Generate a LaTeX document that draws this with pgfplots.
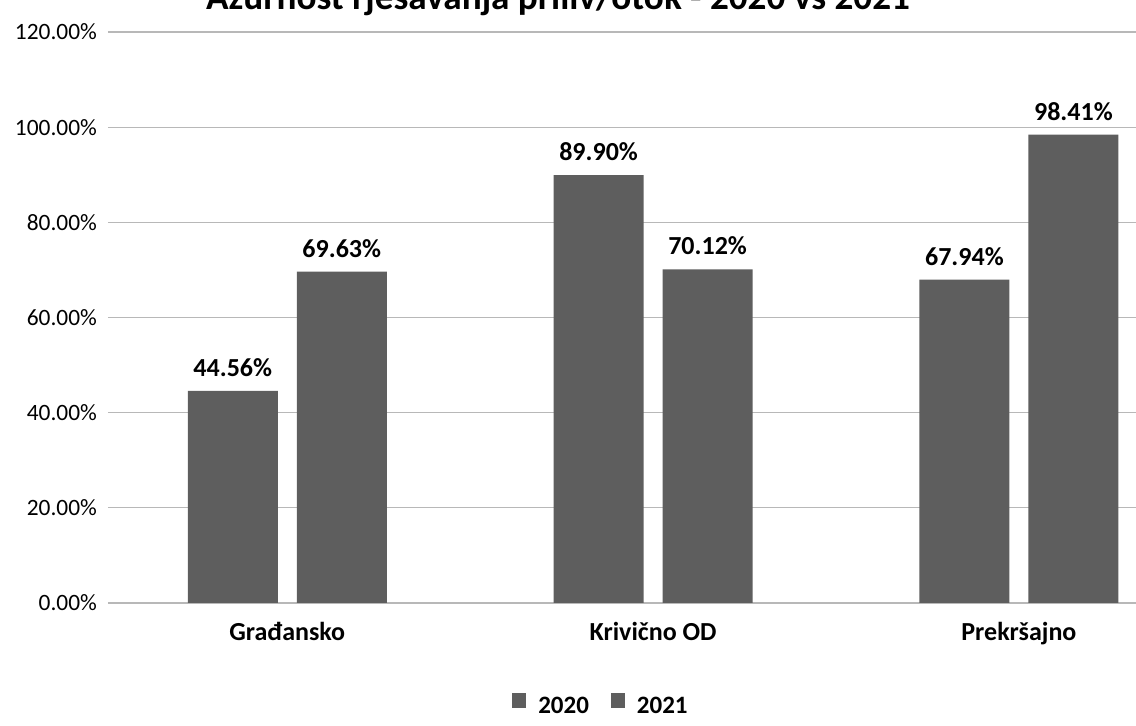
\documentclass[border=0pt]{standalone}
\usepackage{fontspec}
\setmainfont{Carlito}
\usepackage{pgfplots}
\pgfplotsset{compat=1.18}
\definecolor{barg}{HTML}{5E5E5E}
\definecolor{gridg}{HTML}{B8B8B8}
\begin{document}
\begin{tikzpicture}[x=1pt,y=1pt]
\useasboundingbox (0,0) rectangle (568,363);
\begin{axis}[
  at={(54pt,61.5pt)}, anchor=south west,
  scale only axis, width=514pt, height=285.5pt,
  xmin=-0.49, xmax=2.32, ymin=0, ymax=120,
  ytick={0,20,...,120},
  xtick={0,1,2}, xticklabels={Građansko, Krivično OD, Prekršajno},
  ybar=9.5pt, bar width=45pt,
  axis line style={draw=none},
  major tick length=0pt,
  ymajorgrids, grid style={gridg, line width=0.6pt},
  /pgf/number format/assume math mode=true,
  yticklabel={\pgfmathprintnumber[fixed,fixed zerofill,precision=2]{\tick}\%},
  yticklabel style={font=\fontsize{11.7}{12}\selectfont, xshift=-2pt},
  xticklabel style={font=\bfseries\fontsize{13}{14}\selectfont, yshift=-6pt},
  nodes near coords={\pgfmathprintnumber[fixed,fixed zerofill,precision=2]{\pgfplotspointmeta}\%},
  nodes near coords style={font=\bfseries\fontsize{13}{14}\selectfont, anchor=south, inner sep=0pt, yshift=7pt, text=black},
  legend style={at={(0.4805,-0.182)}, anchor=center, draw=none, fill=none, legend columns=2,
    font=\bfseries\fontsize{12.5}{14}\selectfont,
    /tikz/every even column/.append style={column sep=9pt}},
  legend image code/.code={\fill[barg] (0pt,-0.5pt) rectangle (6.8pt,6.8pt); \path (11pt,0pt);},
  clip=false,
]
\addplot[fill=barg, draw=none] coordinates {(0,44.56) (1,89.90) (2,67.94)};
\addplot[fill=barg, draw=none] coordinates {(0,69.63) (1,70.12) (2,98.41)};
\legend{2020, 2021}
\end{axis}
\node[anchor=base east, font=\bfseries\fontsize{18.6}{20}\selectfont] at (458.5,358) {Ažurnost rješavanja priliv/otok - 2020 vs 2021};
\end{tikzpicture}
\end{document}
